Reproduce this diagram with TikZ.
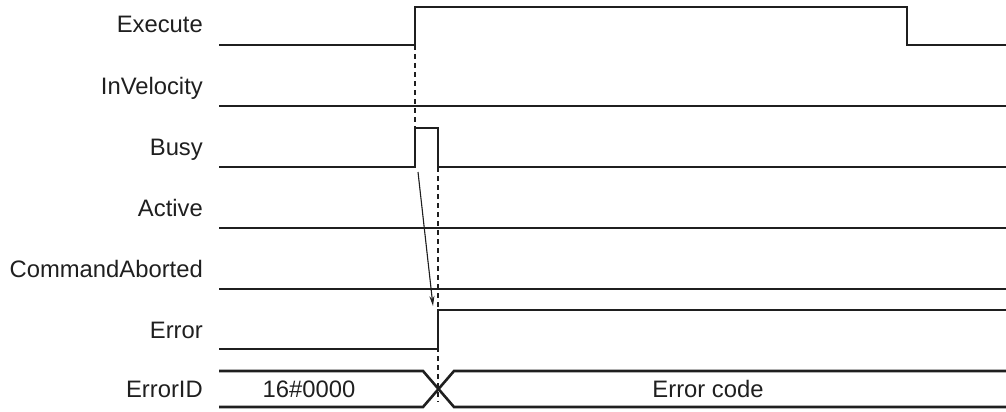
\documentclass[tikz,border=0pt]{standalone}
\usepackage{fontspec}
\setmainfont{Liberation Sans}
\usetikzlibrary{positioning,arrows.meta}

\begin{document}
\begin{tikzpicture}[x=1pt,y=-1pt,>={Stealth[length=10pt,width=5pt]},
  lbl/.style={anchor=base east,inner sep=0pt,text=black!88,font=\fontsize{23.8}{28}\selectfont},
  val/.style={anchor=base,inner sep=0pt,text=black!88,font=\fontsize{23.8}{28}\selectfont},
  sig/.style={line width=2.6pt,draw=black!88},
  guide/.style={dash pattern=on 5pt off 4pt,line width=1.1pt,draw=black!88}]
\useasboundingbox (0,0) rectangle (1006,412);
\node[lbl] (exe) at (203,33) {Execute};
\node[lbl] (vel) at (203,94) {InVelocity};
\node[lbl] (busy) at (203,155) {Busy};
\node[lbl] (act) at (203,216) {Active};
\node[lbl] (abrt) at (203,277) {CommandAborted};
\node[lbl] (err) at (203,338) {Error};
\node[lbl] (eid) at (203,397) {ErrorID};
\draw[sig] (219,45)--(415,45)--(415,7)--(907,7)--(907,45)--(1006,45);
\draw[sig] (219,106)--(1006,106);
\draw[sig] (219,167)--(415,167)--(415,128)--(438,128)--(438,167)--(1006,167);
\draw[sig] (219,228)--(1006,228);
\draw[sig] (219,289)--(1006,289);
\draw[sig] (219,349)--(438,349)--(438,310)--(1006,310);
\draw[sig] (219,371)--(423,371)--(454,407)--(1006,407);
\draw[sig] (219,407)--(423,407)--(454,371)--(1006,371);
\node[val] (old) at (309,397) {16\#0000};
\node[val] (code) at (708,397) {Error code};
\draw[guide] (415,45)--(415,128);
\draw[guide] (438,167)--(438,402);
\coordinate (start) at (418,172);
\coordinate (stop) at (433,306);
\draw[->,line width=1.1pt,draw=black!88,fill=black!88] (start)--(stop);
\end{tikzpicture}
\end{document}
